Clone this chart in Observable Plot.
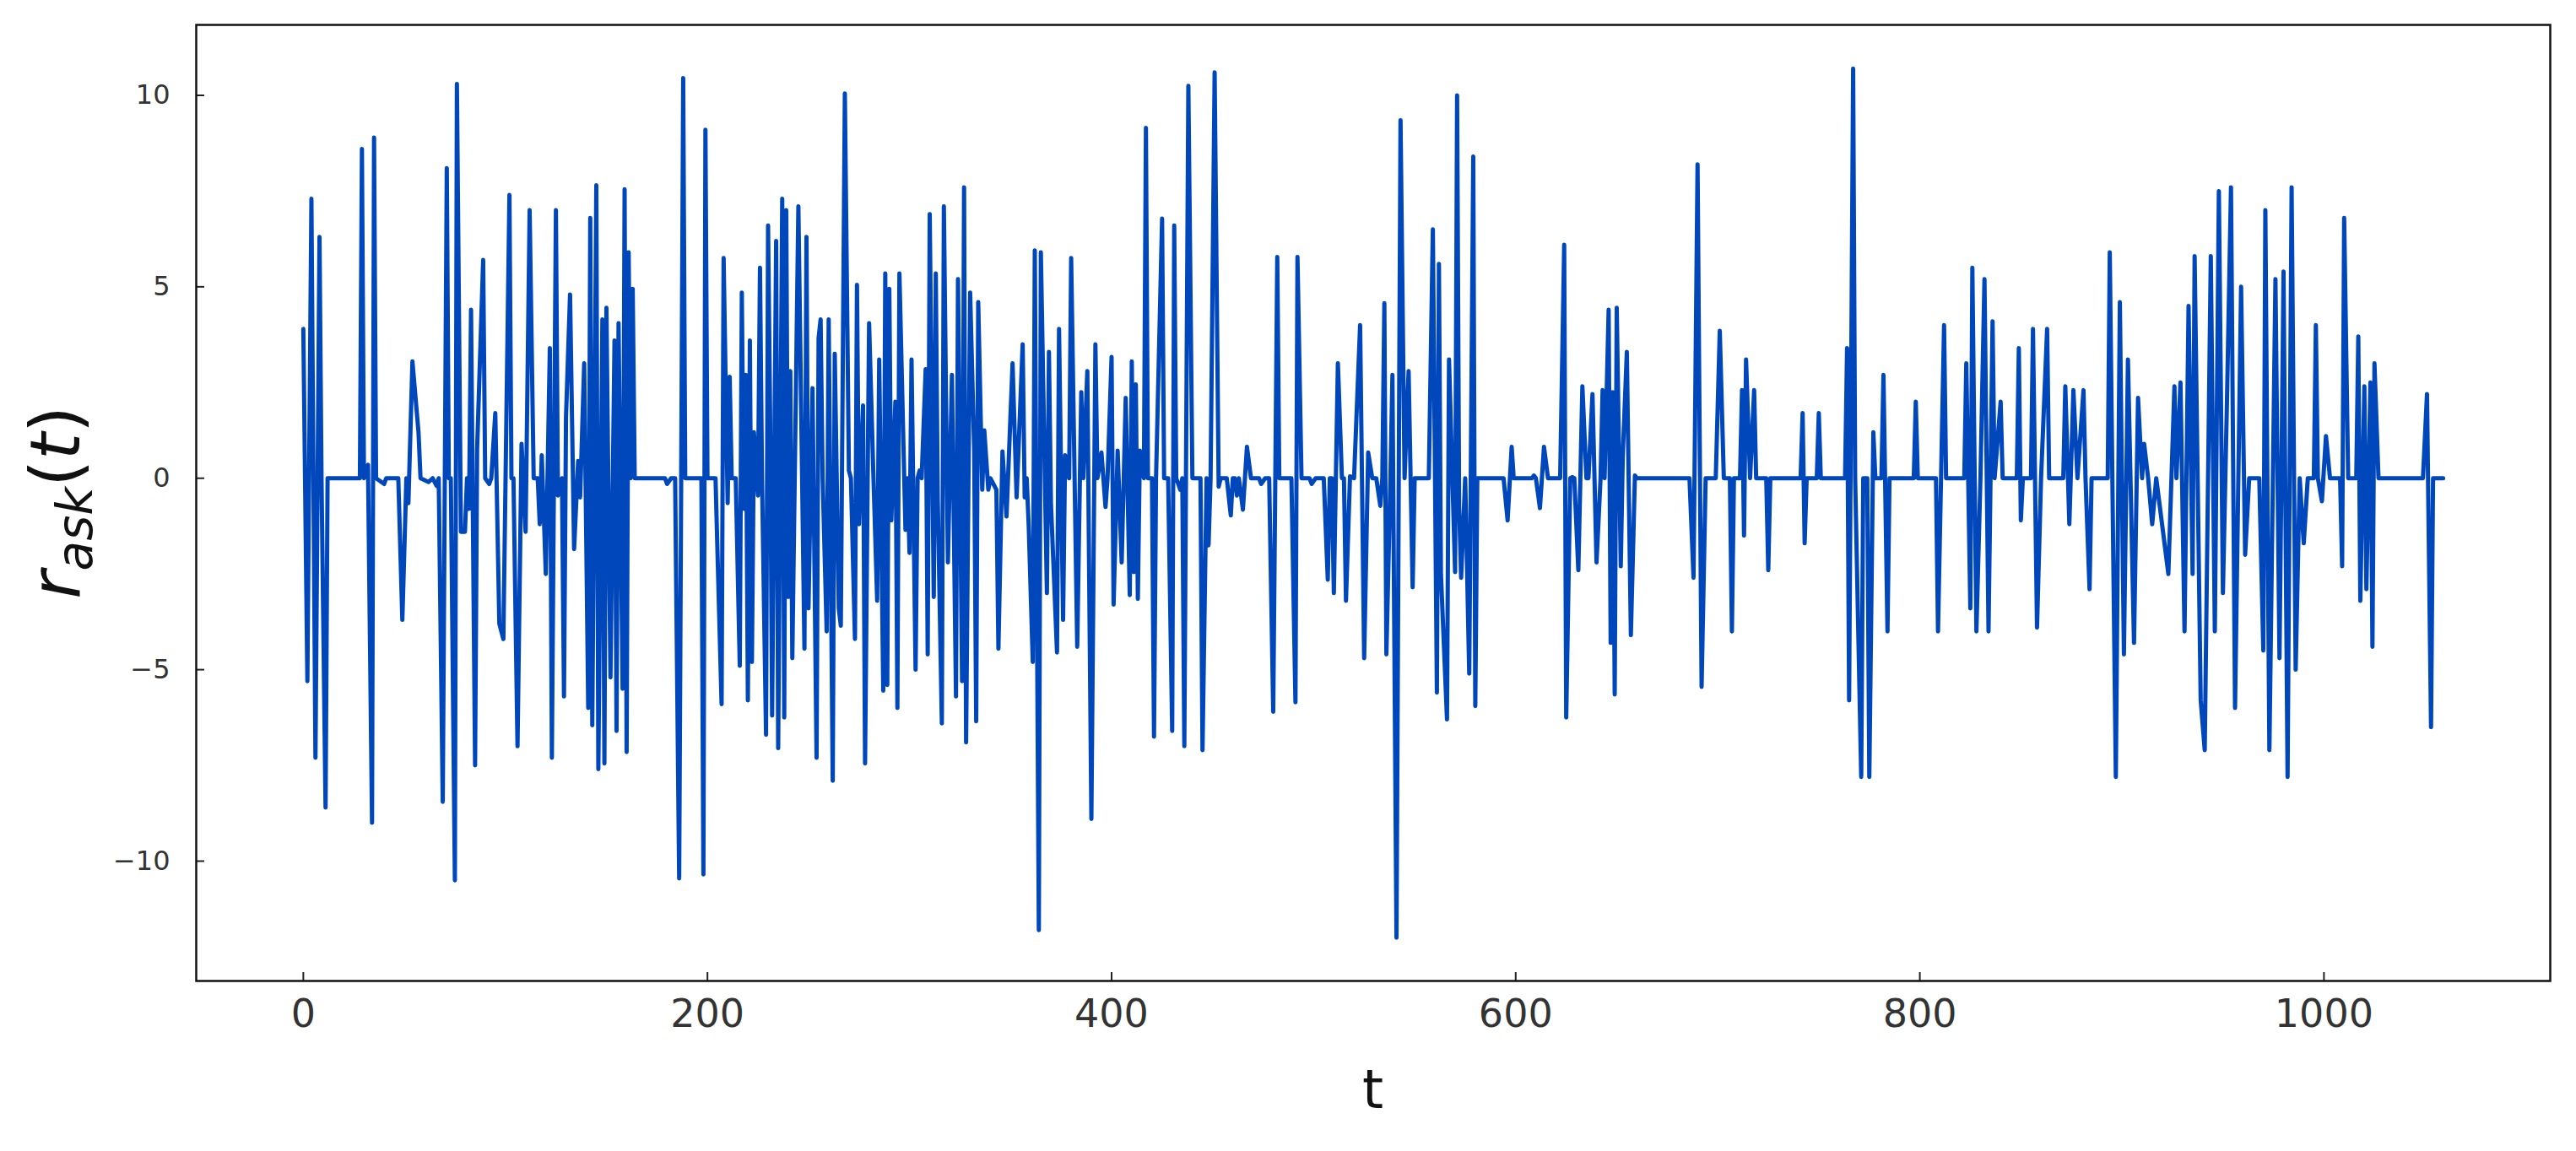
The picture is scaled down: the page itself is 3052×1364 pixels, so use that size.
<!DOCTYPE html>
<html><head><meta charset="utf-8">
<script src="https://cdn.jsdelivr.net/npm/d3@7"></script>
<script src="https://cdn.jsdelivr.net/npm/@observablehq/plot@0.6"></script>
<style>html,body{margin:0;padding:0;background:#fff;}</style>
</head><body><div id="chart"></div>
<script>
// polyline vertices: time index and r_ask value
const tPts = [
0,2,4,6,8,9,11,12,28,29,30,32,34,35,36,40,41,47,49,51,52,54,57,58,62,64,66,67,69,71,72,73,75,76,78,80,81,82,83,85,86,89,90,92,93,95,97,99,102,103,104,106,108,110,112,
114,116,117,118,120,122,123,125,126,128,129,130,132,134,136,137,139,141,142,143,145,146,148,149,150,152,154,155,156,158,159,160,161,162,163,164,179,180,182,184,186,188,189,197,198,199,200,
204,205,207,208,210,211,212,214,216,217,218,219,220,221,222,223,225,226,227,229,230,231,232,234,235,237,238,239,240,241,242,245,248,249,250,252,254,255,256,257,259,260,262,263,265,266,268,270,271,273,274,275,277,278,280,282,284,285,287,288,
289,290,291,293,294,295,298,299,300,301,303,304,305,306,308,309,310,312,313,314,316,317,319,321,323,324,326,327,328,330,332,333,334,336,337,339,340,341,343,344,346,
348,351,353,356,357,358,359,361,362,364,365,368,369,370,373,374,376,377,379,380,383,385,386,388,390,392,393,395,397,398,400,401,403,405,
407,409,410,411,412,413,414,416,417,418,420,421,422,425,426,428,430,431,432,434,435,436,438,440,444,445,447,448,449,451,453,454,457,459,460,461,462,
463,465,467,469,473,474,476,478,480,482,483,489,491,492,494,498,499,501,505,507,508,509,510,512,514,515,516,518,520,
523,525,527,529,531,533,534,535,536,538,539,541,543,545,547,549,550,557,559,561,562,563,566,567,570,571,572,573,575,577,579,
580,581,594,596,598,599,608,609,610,612,614,616,622,624,625,627,628,629,631,633,635,636,638,
640,642,643,644,646,647,648,649,650,652,653,655,657,659,660,686,688,690,692,694,699,701,
703,706,707,708,711,712,713,714,716,718,719,724,725,726,741,742,743,744,749,750,751,763,764,765,767,768,771,772,774,775,777,778,781,782,784,785,797,798,799,
808,809,812,813,822,823,825,826,828,830,832,834,836,837,840,841,848,849,850,851,855,856,858,860,863,864,871,872,874,876,878,881,882,884,885,893,894,897,899,
901,903,906,908,910,911,913,915,917,923,926,927,929,931,933,935,936,939,941,944,946,948,950,952,954,956,959,961,963,968,970,971,973,976,978,980,982,984,986,988,990,992,995,996,997,999,
1001,1003,1008,1009,1010,1012,1016,1017,1018,1020,1021,1023,1024,1025,1027,1049,1051,1053,1054,1059
];
const rVals = [
3.9,-5.3,7.3,-7.3,6.3,0,-8.6,0,0,8.6,0,0.35,-9.0,8.9,0,-0.15,0,0,-3.7,0,-0.65,3.05,1.2,0,-0.1,0,-0.2,0,-8.45,8.1,0,0,-10.5,10.3,-1.4,-1.4,0,-0.8,4.4,-7.5,0.75,5.7,0,-0.15,0,1.7,-3.8,-4.2,7.4,0,0,-7.0,0.9,-1.4,7.0,
0,0,-1.2,0.6,-2.5,3.4,-7.3,7.0,-0.45,0,-5.7,1.6,4.8,-1.85,0.45,-0.5,3.0,-6.0,6.8,-6.45,7.65,-7.6,4.15,-7.45,4.45,-5.2,3.6,-6.6,4.05,-5.5,7.55,-7.15,5.9,0,4.95,0,0,-0.15,0,0,-10.45,10.45,0,0,-10.35,9.1,0,
0,-2.0,-5.9,5.75,-0.65,2.65,0,0,-4.9,4.85,-0.8,2.7,-5.8,3.6,-4.8,1.2,-0.45,5.5,0,-6.7,6.6,1.75,-6.2,6.2,-7.05,7.3,-6.25,7.0,-3.1,2.8,-4.7,7.1,-4.45,6.3,-3.4,2.35,-7.3,3.65,4.15,0,-4.0,4.15,-7.9,3.25,-3.4,-3.85,10.05,0.2,0,-4.2,5.05,-1.2,1.9,-7.45,4.05,0.3,-3.2,3.1,-5.55,5.35,
-5.4,4.95,-1.1,2.0,-6.0,5.35,-1.35,0,-1.95,3.1,-5.0,0,0.2,0,2.85,-4.6,6.9,-3.1,5.35,-0.6,-6.4,7.1,-2.2,2.7,-5.7,5.2,-5.3,7.6,-6.9,4.85,0.75,-6.35,4.6,-0.3,1.25,-0.3,0,-0.1,-0.3,-4.45,0.7,
-1.0,3.0,-0.5,3.5,-0.5,0,-1.25,-4.8,5.95,-11.8,5.9,-3.0,3.3,-0.65,-4.55,3.9,-3.7,0.6,0,5.75,-4.4,2.25,0,2.8,-8.9,3.5,0,0.67,-0.75,0,3.17,-3.3,0.72,-2.2,
2.1,-3.05,3.05,-2.45,2.45,-3.15,0.72,0,9.15,0,0,-6.75,0,6.78,0,0,-6.6,6.6,0,-0.3,0,-7.0,10.25,0,0,-7.1,0,-1.75,0,10.6,-0.22,0,0,-0.97,0,0,-0.45,
0,-0.82,0.82,0,0,-0.15,0,0,-6.1,5.78,0,0,-5.85,5.78,0,0,-0.15,0,0,-2.65,0,0,-3.0,3.0,0,0,-3.2,0.05,0,
4.0,-4.7,0.67,0,0,-0.72,0,4.57,-4.6,0,2.7,-12.0,9.35,0,2.8,-2.85,0,0,6.5,-5.6,5.6,-2.5,-6.3,3.1,-2.45,10.0,-0.75,-2.6,0,-5.1,8.4,
-5.95,0,0,-1.1,0.82,0,0,0.07,0,-0.78,0.82,0,0,6.1,-6.25,0,0.03,0,-2.4,2.4,0,0,2.2,
-2.2,0,2.3,0,4.4,-4.3,2.25,-5.65,4.45,-2.3,0.6,3.3,-4.1,0.07,0,0,-2.6,8.2,-5.45,0,0,3.85,
0,0,-4.0,0,0,2.3,-1.5,3.1,0,2.3,0,0,-2.4,0,0,1.7,-1.7,0,0,1.7,0,0,3.4,-5.8,10.7,0,-7.8,0,0,-7.8,1.2,0,0,2.7,-4.0,0,0,2.0,0,
0,-4.0,4.0,0,0,3.0,-3.4,5.5,-4.0,0,5.2,-4.0,4.1,0,2.0,0,0,3.4,-1.1,0,0,3.9,-3.9,0,3.9,0,0,2.4,-1.2,2.3,0,2.3,0,-2.9,0,0,5.9,-7.8,4.6,
-4.6,3.1,-4.3,2.1,0,0.9,0,-1.2,0,-2.5,2.4,0,2.5,-4.0,4.5,-2.5,5.8,-5.8,-7.1,5.8,-4.0,7.5,-3.0,2.0,7.6,-6.0,5.0,-2.0,0,0,-4.5,7.0,-7.1,5.2,-4.7,5.4,-7.8,7.6,-5.0,0,-1.7,0,0,4.0,0,-0.6,
1.1,0,0,-2.3,6.8,0,0,3.7,-3.2,2.4,-2.9,2.5,-4.4,3.0,0,0,2.2,-6.5,0,0
];
const xTicks = [0, 200, 400, 600, 800, 1000];
const yTicks = [-10, -5, 0, 5, 10];

const data = tPts.map((t, i) => ({t, r: rVals[i]}));
const W = 3052, H = 1364, mL = 232, mR = 31, mT = 29, mB = 202;
const fw = W - mL - mR, fh = H - mT - mB;
const fmt = d => d < 0 ? "\u2212" + Math.abs(d) : String(d);

const svg = Plot.plot({
  width: W, height: H,
  marginLeft: mL, marginRight: mR, marginTop: mT, marginBottom: mB,
  style: {fontFamily: "DejaVu Sans", background: "#fff", color: "#333"},
  x: {domain: [-53, 1112]},
  y: {domain: [-13.13, 11.84]},
  marks: [
    Plot.line(data, {x: "t", y: "r", stroke: "#0047bb", strokeWidth: 5, strokeLinejoin: "round", strokeLinecap: "round"}),
    Plot.tickX(xTicks, {x: d => d, insetTop: fh - 10, stroke: "#222", strokeWidth: 2}),
    Plot.tickY(yTicks, {y: d => d, insetRight: fw - 10, stroke: "#222", strokeWidth: 2}),
    Plot.axisX({ticks: xTicks, tickSize: 0, tickPadding: 22, fontSize: 46, label: null, tickFormat: fmt, color: "#333"}),
    Plot.axisY({ticks: yTicks, tickSize: 0, tickPadding: 31, fontSize: 32, label: null, tickFormat: fmt, color: "#333"}),
    Plot.frame({stroke: "#111", strokeWidth: 2.5})
  ]
});
document.getElementById("chart").appendChild(svg);

const s = d3.select(svg);
s.append("text")
  .attr("x", (mL + W - mR) / 2).attr("y", 1313)
  .attr("text-anchor", "middle")
  .attr("font-family", "DejaVu Sans").attr("font-size", 64).attr("fill", "#111")
  .text("t");

const yl = s.append("text")
  .attr("transform", `translate(94,${(mT + H - mB) / 2}) rotate(-90)`)
  .attr("text-anchor", "middle")
  .attr("font-family", "DejaVu Sans").attr("font-size", 82).attr("fill", "#111");
yl.append("tspan").attr("font-style", "italic").text("r");
yl.append("tspan").attr("font-style", "italic").attr("font-size", 58).attr("dy", 15).text("ask");
yl.append("tspan").attr("dy", -15).text("(");
yl.append("tspan").attr("font-style", "italic").text("t");
yl.append("tspan").text(")");
</script>
</body></html>
